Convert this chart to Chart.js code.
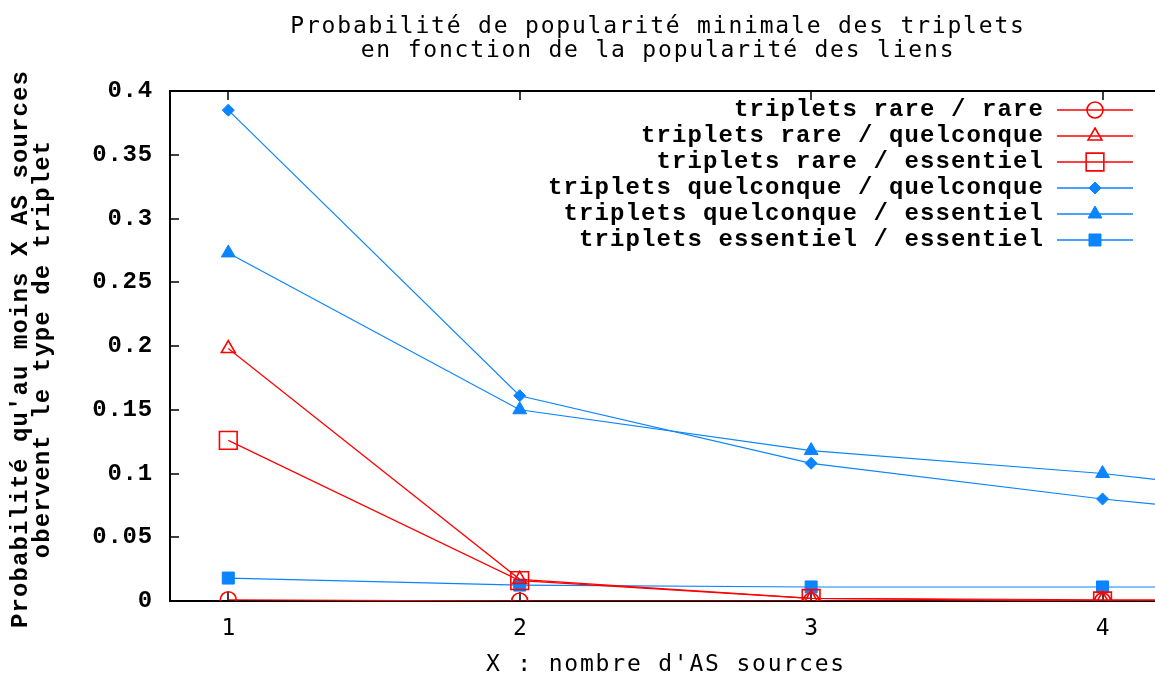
<!DOCTYPE html>
<html>
<head>
<meta charset="utf-8">
<script src="https://cdn.jsdelivr.net/npm/chart.js@4.4.0/dist/chart.umd.min.js"></script>
<style>
  html, body { margin: 0; padding: 0; background: #fff; overflow: hidden; }
  canvas { display: block; }
</style>
</head>
<body>
<canvas id="chart" width="1155" height="676"></canvas>
<script>
// values (x = nombre d'AS sources)
const xValues = [1, 2, 3, 4, 5];
const rareRare = [0.001, 0.0, 0.0, 0.0, 0.0];
const rareQuelconque = [0.198, 0.017, 0.002, 0.001, 0.0];
const rareEssentiel = [0.126, 0.016, 0.002, 0.0, 0.0];
const quelQuel = [0.385, 0.161, 0.108, 0.080, 0.058];
const quelEssentiel = [0.273, 0.150, 0.118, 0.100, 0.074];
const essEss = [0.018, 0.0125, 0.011, 0.011, 0.011];

const seriesLabels = [
    'triplets rare / rare',
    'triplets rare / quelconque',
    'triplets rare / essentiel',
    'triplets quelconque / quelconque',
    'triplets quelconque / essentiel',
    'triplets essentiel / essentiel'
];
const xTicks = [1, 2, 3, 4];
const yTicks = [0, 0.05, 0.1, 0.15, 0.2, 0.25, 0.3, 0.35, 0.4];
const titleLines = ['Probabilité de popularité minimale des triplets', 'en fonction de la popularité des liens'];
const yTitleLines = ["Probabilité qu'au moins X AS sources", 'obervent le type de triplet'];
const xTitle = "X : nombre d'AS sources";

const RED = '#ff0000';
const BLUE = '#0a84ff';
const MONO_BOLD = 'bold 24px "Liberation Mono"';
const NARROW = '23px "DejaVu Sans Mono"';

function points(arr) {
    return xValues.map((x, i) => ({ x: x, y: arr[i] }));
}

function makeSet(label, arr, color, style, radius, filled) {
    return {
        label: label,
        data: points(arr),
        borderColor: color,
        borderWidth: 1.2,
        pointStyle: style,
        pointRadius: radius,
        pointHoverRadius: radius,
        pointBorderColor: color,
        pointBackgroundColor: filled ? color : 'rgba(0,0,0,0)',
        pointBorderWidth: filled ? 1 : 1.6,
        fill: false,
        tension: 0
    };
}

const gnuplotLook = {
    id: 'gnuplotLook',
    beforeDatasetsDraw(chart) {
        const ctx = chart.ctx;
        const a = chart.chartArea;
        const xs = chart.scales.x;
        const ys = chart.scales.y;
        ctx.save();
        ctx.strokeStyle = '#000';
        ctx.lineWidth = 2;
        ctx.beginPath();
        ctx.moveTo(a.right + 5, a.top);
        ctx.lineTo(a.left, a.top);
        ctx.lineTo(a.left, a.bottom);
        ctx.lineTo(a.right + 5, a.bottom);
        ctx.stroke();
        ctx.lineWidth = 1.5;
        ctx.beginPath();
        yTicks.forEach(v => {
            const py = Math.round(ys.getPixelForValue(v));
            ctx.moveTo(a.left, py);
            ctx.lineTo(a.left + 9, py);
        });
        xTicks.forEach(v => {
            const px = Math.round(xs.getPixelForValue(v));
            ctx.moveTo(px, a.top);
            ctx.lineTo(px, a.top + 9);
            ctx.moveTo(px, a.bottom);
            ctx.lineTo(px, a.bottom - 9);
        });
        ctx.stroke();
        ctx.restore();
    },
    afterDraw(chart) {
        const ctx = chart.ctx;
        const xs = chart.scales.x;
        const ys = chart.scales.y;
        ctx.save();
        ctx.fillStyle = '#000';
        ctx.textBaseline = 'middle';

        // title
        ctx.font = NARROW;
        ctx.letterSpacing = '1.8px';
        ctx.textAlign = 'center';
        titleLines.forEach((t, i) => ctx.fillText(t, 658, 27 + i * 24));

        // x ticks + title
        xTicks.forEach(v => ctx.fillText(String(v), xs.getPixelForValue(v) + 1, 629));
        ctx.fillText(xTitle, 666, 665);

        // y ticks
        ctx.font = MONO_BOLD;
        ctx.letterSpacing = '0.8px';
        ctx.textAlign = 'right';
        yTicks.forEach(v => ctx.fillText(String(+v.toFixed(2)), 153, ys.getPixelForValue(v)));

        // y title
        ctx.save();
        ctx.translate(21, 349);
        ctx.rotate(-Math.PI / 2);
        ctx.textAlign = 'center';
        ctx.letterSpacing = '1.1px';
        yTitleLines.forEach((t, i) => ctx.fillText(t, 0, i * 22));
        ctx.restore();

        // legend
        ctx.textAlign = 'right';
        ctx.letterSpacing = '1.1px';
        chart.data.datasets.forEach((ds, i) => {
            const y = 110 + i * 26;
            ctx.fillStyle = '#000';
            ctx.fillText(ds.label, 1044, y);
            ctx.strokeStyle = ds.borderColor;
            ctx.lineWidth = 1.4;
            ctx.beginPath();
            ctx.moveTo(1057, y);
            ctx.lineTo(1133, y);
            ctx.stroke();
            ctx.fillStyle = ds.pointBackgroundColor;
            ctx.strokeStyle = ds.pointBorderColor;
            ctx.lineWidth = ds.pointBorderWidth;
            Chart.helpers.drawPoint(ctx, {
                pointStyle: ds.pointStyle,
                radius: ds.pointRadius,
                rotation: 0,
                borderWidth: ds.pointBorderWidth
            }, 1095, y);
        });
        ctx.restore();
    }
};

new Chart(document.getElementById('chart').getContext('2d'), {
    type: 'line',
    data: {
        datasets: [
            makeSet(seriesLabels[0], rareRare, RED, 'circle', 8, false),
            makeSet(seriesLabels[1], rareQuelconque, RED, 'triangle', 8, false),
            makeSet(seriesLabels[2], rareEssentiel, RED, 'rect', 12.5, false),
            makeSet(seriesLabels[3], quelQuel, BLUE, 'rectRot', 6, true),
            makeSet(seriesLabels[4], quelEssentiel, BLUE, 'triangle', 8, true),
            makeSet(seriesLabels[5], essEss, BLUE, 'rect', 8.5, true)
        ]
    },
    options: {
        responsive: false,
        animation: false,
        layout: { autoPadding: false, padding: { top: 91, left: 0, right: 0, bottom: 0 } },
        plugins: {
            legend: { display: false },
            title: { display: false },
            tooltip: { enabled: false }
        },
        scales: {
            x: {
                type: 'linear',
                min: 0.8,
                max: 4.18,
                ticks: { display: false },
                grid: { display: false },
                border: { display: false },
                afterFit: s => { s.height = 75; }
            },
            y: {
                min: 0,
                max: 0.4,
                ticks: { display: false },
                grid: { display: false },
                border: { display: false },
                afterFit: s => { s.width = 170; }
            }
        }
    },
    plugins: [gnuplotLook]
});
</script>
</body>
</html>
